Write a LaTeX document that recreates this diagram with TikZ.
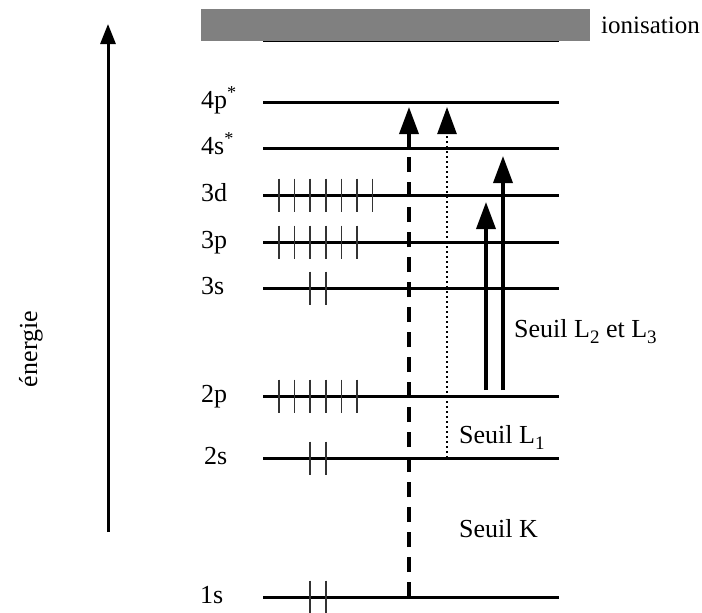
\documentclass[tikz,border=0pt]{standalone}
\usepackage{fontspec}
\setmainfont{Liberation Serif}
\usetikzlibrary{arrows.meta}
\newcommand{\lsub}[1]{\raisebox{-0.55ex}{\fontsize{19}{19}\selectfont #1}}

\begin{document}
\begin{tikzpicture}[x=1pt,y=-1pt,font=\fontsize{26}{30}\selectfont,
    level/.style={line width=3pt},
    elec/.style={line width=1.5pt,gray!40!black},
    lab/.style={anchor=base west,inner sep=0pt},
    jump/.style={line width=3.5pt,-{Triangle[length=27pt,width=19pt]}}]
    \useasboundingbox (0,0) rectangle (702,613);
    % continuum
    \fill[gray] (201,9) rectangle (590,41);
    \draw[line width=1.2pt] (263,41.5) -- (559,41.5);
    \node[lab,font=\fontsize{25}{29}\selectfont] (ion) at (601,33) {ionisation};
    % energy axis
    \coordinate (ebot) at (108,532);
    \coordinate (etop) at (108,24);
    \draw[line width=3pt,-{Triangle[length=20pt,width=15pt]}] (ebot) -- (etop);
    \node[rotate=90] (en) at (31,349) {énergie};
    % levels
    \foreach \nm/\y/\lx/\txt in {4p/102/201/4p\textsuperscript{*},
        4s/148/201/4s\textsuperscript{*}, 3d/195/201/3d, 3p/242/201/3p,
        3s/288/201/3s, 2p/396/201/2p, 2s/458/204/2s, 1s/597/200/1s} {
      \draw[level] (263,\y) coordinate (w\nm) -- (559,\y) coordinate (e\nm);
      \node[lab] (n\nm) at (\lx,\y+6) {\txt};
    }
    % electrons
    \foreach \nm/\y/\first/\last in {3d/195/0/6, 3p/242/0/5, 3s/288/2/3,
        2p/396/0/5, 2s/458/2/3, 1s/597/2/3} {
      \foreach \i in {\first,...,\last}
        \draw[elec] (279+15.6*\i,\y-16.5) -- (279+15.6*\i,\y+16.5);
    }
    % transitions
    \coordinate (k0) at (409,597);   \coordinate (k1) at (409,107);
    \coordinate (la0) at (447,458);  \coordinate (la1) at (447,107);
    \coordinate (lb0) at (486,390);  \coordinate (lb1) at (486,202);
    \coordinate (lc0) at (503,390);  \coordinate (lc1) at (503,156);
    \draw[jump,dash pattern=on 15pt off 10pt] (k0) -- (k1);
    \draw[jump,line width=2.6pt,dash pattern=on 2.4pt off 2.6pt] (la0) -- (la1);
    \draw[jump] (lb0) -- (lb1);
    \draw[jump] (lc0) -- (lc1);
    \node[lab] (sk) at (459,537) {Seuil K};
    \node[lab] (sl1) at (459,443) {Seuil L\lsub{1}};
    \node[lab] (sl23) at (514,337) {Seuil L\lsub{2} et L\lsub{3}};
\end{tikzpicture}
\end{document}
